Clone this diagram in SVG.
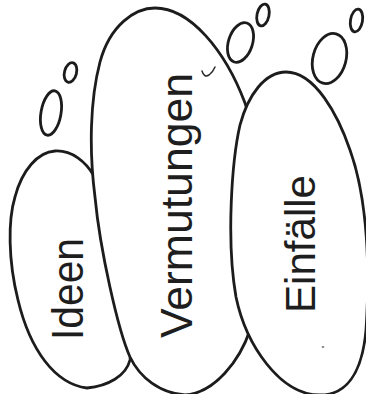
<svg xmlns="http://www.w3.org/2000/svg" width="366" height="394" viewBox="0 0 366 394">
  <style>
    .shape { fill: #ffffff; stroke: #1c1c1c; stroke-width: 2.8; stroke-linejoin: round; stroke-linecap: round; }
    .bubble { fill: none; stroke: #1c1c1c; stroke-width: 2.8; }
    .label { font-family: "Liberation Sans", Arial, sans-serif; fill: #1e1e1e; text-anchor: middle; }
  </style>
  <rect x="0" y="0" width="366" height="394" fill="#ffffff"/>

  <g id="ideen">
    <path class="shape" d="M 87,388 C 55,384 30,350 18,300 C 8,260 8,220 15,197 C 22,170 38,152 55,151 C 72,150 86,162 94,176 C 115,220 135,320 130,360 C 126,376 108,386 87,388 Z"/>
    <text class="label" transform="translate(83,289) rotate(-90)" font-size="45" textLength="102" lengthAdjust="spacingAndGlyphs">Ideen</text>
  </g>

  <g id="vermutungen">
    <path class="shape" d="M 185,395 C 160,393 140,378 130,357 C 118,330 100,250 95,197 C 89,150 90,100 100,62 C 110,25 135,8 155,8 C 190,8 225,50 245,103 C 262,150 268,280 250,330 C 240,360 215,393 185,395 Z"/>
    <text class="label" transform="translate(192,205.5) rotate(-90)" font-size="45" textLength="265" lengthAdjust="spacingAndGlyphs">Vermutungen</text>
  </g>

  <g id="einfaelle">
    <path class="shape" d="M 286,72 C 265,72 248,95 240,125 C 232,160 226,240 236,297 C 246,345 280,395 320,395 C 345,395 362,375 366,330 C 370,270 368,200 350,150 C 338,115 315,72 286,72 Z"/>
    <text class="label" transform="translate(315,244) rotate(-90)" font-size="42" textLength="138" lengthAdjust="spacingAndGlyphs">Einfälle</text>
  </g>

  <g id="bubbles">
    <ellipse class="bubble" cx="51" cy="113" rx="10" ry="22.5" transform="rotate(10 51 113)"/>
    <ellipse class="bubble" cx="70.5" cy="72.5" rx="6" ry="10" transform="rotate(15 70.5 72.5)"/>
    <ellipse class="bubble" cx="240.5" cy="42.5" rx="12" ry="20.5" transform="rotate(18 240.5 42.5)"/>
    <ellipse class="bubble" cx="263" cy="15" rx="6" ry="11" transform="rotate(12 263 15)"/>
    <ellipse class="bubble" cx="329.5" cy="58.5" rx="16.5" ry="25.5" transform="rotate(15 329.5 58.5)"/>
    <ellipse class="bubble" cx="356.5" cy="20.5" rx="6" ry="11.5" transform="rotate(10 356.5 20.5)"/>
  </g>

  <g id="marks">
    <path d="M 202,71 Q 204,78 209,75 Q 213,72 215,67" fill="none" stroke="#2a2a2a" stroke-width="1.5" stroke-linecap="round"/>
    <ellipse cx="323" cy="347" rx="1.4" ry="0.8" fill="#555555"/>
  </g>

  <g id="connectors"></g>
</svg>
